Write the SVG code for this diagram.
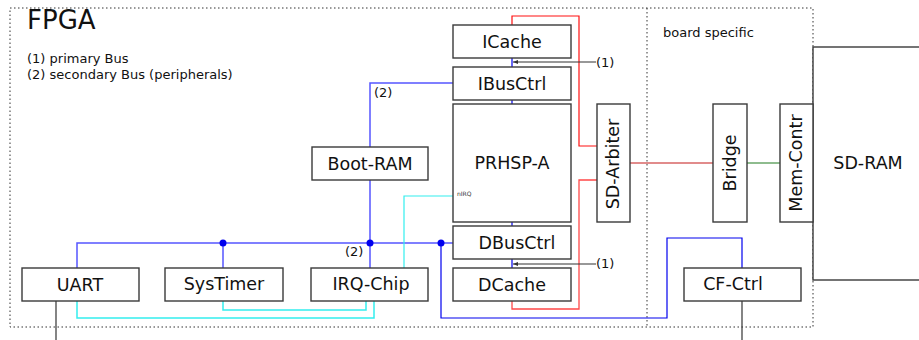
<svg xmlns="http://www.w3.org/2000/svg" width="919" height="340" viewBox="0 0 919 340">
<style>
.box{fill:#fff;stroke:#3a3a3a;stroke-width:1.4}
.t{font-family:"DejaVu Sans",sans-serif;font-size:17.5px;fill:#111;text-anchor:middle}
.s{font-family:"DejaVu Sans",sans-serif;font-size:13px;fill:#111}
.dot{fill:none;stroke:#333;stroke-width:1;stroke-dasharray:1.5,2.5}
.bl{fill:none;stroke:#5555ff;stroke-width:1.5}
.bd{fill:none;stroke:#0000ee;stroke-width:1.2}
.cy{fill:none;stroke:#33eeee;stroke-width:1.5}
.rd{fill:none;stroke:#ff1010;stroke-width:1.2}
.rl{fill:none;stroke:#ff4848;stroke-width:1.3}
.k{fill:none;stroke:#333;stroke-width:1.2}
</style>
<defs>
<marker id="ah" markerWidth="6" markerHeight="6" refX="5" refY="3" orient="auto" markerUnits="userSpaceOnUse">
<path d="M0,1 L5,3 L0,5 z" fill="#333"/>
</marker>
</defs>
<rect width="919" height="340" fill="#fff"/>
<g id="fpga">
<rect class="dot" x="10" y="8" width="803" height="319"/>
<line class="dot" x1="647" y1="8" x2="647" y2="327"/>
<text x="27" y="29" style="font-family:'DejaVu Sans',sans-serif;font-size:26px;fill:#111">FPGA</text>
<text class="s" x="27" y="63">(1) primary Bus</text>
<text class="s" x="27" y="79">(2) secondary Bus (peripherals)</text>
<text class="s" x="663" y="37">board specific</text>
</g>
<g id="connectors">
<path class="rd" d="M512,25 V16 H579 V146 H597"/>
<path class="rl" d="M597,180 H579 V309 H512 V301"/>
<line stroke="#c41818" stroke-width="1.2" x1="630" y1="163" x2="713" y2="163"/>
<line stroke="#1f7a1f" stroke-width="1.2" x1="747" y1="163" x2="780" y2="163"/>
<line class="bd" x1="512" y1="58" x2="512" y2="67"/>
<line class="bd" x1="512" y1="100" x2="512" y2="104"/>
<line class="bd" x1="512" y1="222" x2="512" y2="226"/>
<line class="bd" x1="512" y1="259" x2="512" y2="268"/>
<line class="k" x1="596" y1="62" x2="513" y2="62" marker-end="url(#ah)"/>
<line class="k" x1="596" y1="264" x2="513" y2="264" marker-end="url(#ah)"/>
<path class="bl" d="M453,83 H370 V268"/>
<path class="bl" d="M77,268 V243 H453"/>
<line class="bl" x1="223" y1="243" x2="223" y2="268"/>
<path class="bd" d="M441,243 V318 H667 V238 H742 V268"/>
<circle cx="223" cy="243" r="3.5" fill="#0000ee"/>
<circle cx="370" cy="243" r="3.5" fill="#0000ee"/>
<circle cx="441" cy="243" r="3.5" fill="#0000ee"/>
<path class="cy" d="M77,301 V318 H374 V301"/>
<path class="cy" d="M223,301 V310 H366 V301"/>
<path class="cy" style="stroke-width:1.2" d="M453,196 H404 V268"/>
<line class="k" x1="56" y1="301" x2="56" y2="340"/>
<line class="k" x1="742" y1="301" x2="742" y2="340"/>
<text class="s" x="374" y="97">(2)</text>
<text class="s" x="345" y="256">(2)</text>
<text class="s" x="596" y="67">(1)</text>
<text class="s" x="596" y="268">(1)</text>
</g>
<g id="icache"><rect class="box" x="453" y="25" width="118" height="33"/><text class="t" x="512" y="48">ICache</text></g>
<g id="ibusctrl"><rect class="box" x="453" y="67" width="118" height="33"/><text class="t" x="512" y="90">IBusCtrl</text></g>
<g id="prhsp"><rect class="box" x="453" y="104" width="118" height="118"/><text class="t" x="512" y="169">PRHSP-A</text><text x="457" y="196" style="font-family:'DejaVu Sans',sans-serif;font-size:6px;fill:#333">nIRQ</text></g>
<g id="dbusctrl"><rect class="box" x="453" y="226" width="118" height="33"/><text class="t" x="517" y="249">DBusCtrl</text></g>
<g id="dcache"><rect class="box" x="453" y="268" width="118" height="33"/><text class="t" x="512" y="291">DCache</text></g>
<g id="bootram"><rect class="box" x="312" y="147" width="116" height="33"/><text class="t" x="370" y="170">Boot-RAM</text></g>
<g id="uart"><rect class="box" x="22" y="268" width="117" height="33"/><text class="t" x="80" y="291">UART</text></g>
<g id="systimer"><rect class="box" x="165" y="268" width="118" height="33"/><text class="t" x="224" y="290">SysTimer</text></g>
<g id="irqchip"><rect class="box" x="311" y="268" width="117" height="33"/><text class="t" x="371" y="290">IRQ-Chip</text></g>
<g id="cfctrl"><rect class="box" x="684" y="268" width="117" height="33"/><text class="t" x="733" y="290">CF-Ctrl</text></g>
<g id="sdarbiter"><rect class="box" x="597" y="104" width="33" height="118"/><text class="t" transform="translate(619,164) rotate(-90)">SD-Arbiter</text></g>
<g id="bridge"><rect class="box" x="713" y="104" width="34" height="118"/><text class="t" transform="translate(736,163) rotate(-90)">Bridge</text></g>
<g id="sdram"><rect class="box" x="813" y="47" width="120" height="233"/><text class="t" x="868" y="169">SD-RAM</text></g>
<g id="memcontr"><rect class="box" x="780" y="104" width="33" height="118"/><text class="t" transform="translate(802,163) rotate(-90)">Mem-Contr</text></g>
</svg>
